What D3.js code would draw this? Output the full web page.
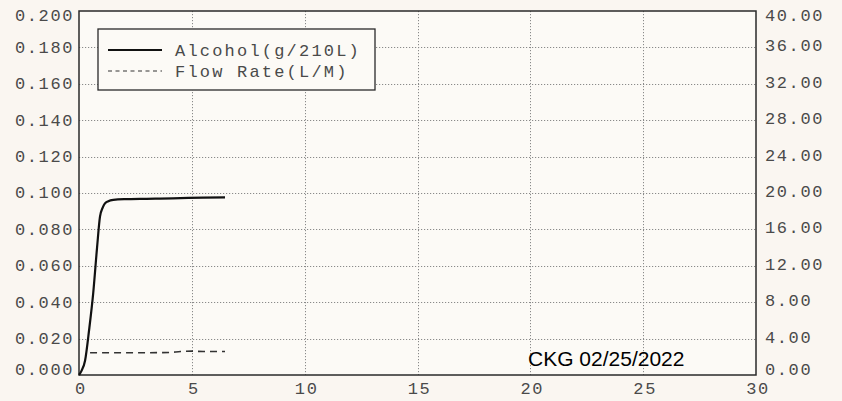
<!DOCTYPE html>
<html><head><meta charset="utf-8">
<script src="https://cdn.jsdelivr.net/npm/d3@7"></script>
<style>
html,body{margin:0;padding:0;background:#faf6f1;}
svg{display:block;}
</style></head>
<body>
<svg id="chart" width="842" height="401"></svg>
<script>
// ---- data ----
const timeAlcohol = [0, 0.1, 0.27, 0.45, 0.63, 0.8, 0.93, 1.05, 1.15, 1.3, 1.52, 2, 3, 3.6, 4.5, 5.5, 6.47];
const alcohol     = [0, 0.002, 0.008, 0.025, 0.045, 0.070, 0.087, 0.092, 0.0943, 0.0955, 0.0962, 0.0966, 0.0968, 0.0969, 0.0972, 0.0975, 0.0976];
const timeFlow = [0.49, 1, 2, 3, 4, 4.5, 5, 5.5, 6.47];
const flowRate = [2.45, 2.45, 2.45, 2.45, 2.48, 2.58, 2.62, 2.58, 2.58];
const xTicks = [0, 5, 10, 15, 20, 25, 30];
const leftTicks = [0, 0.02, 0.04, 0.06, 0.08, 0.10, 0.12, 0.14, 0.16, 0.18, 0.20];
const rightTicks = [0, 4, 8, 12, 16, 20, 24, 28, 32, 36, 40];
const seriesNames = ["Alcohol(g/210L)", "Flow Rate(L/M)"];
const stamp = "CKG 02/25/2022";

// ---- layout ----
const L = 79, R = 756, T = 11, B = 375;
const svg = d3.select("#chart");
const x = d3.scaleLinear().domain([0, 30]).range([L, R]);
const yL = d3.scaleLinear().domain([0, 0.2]).range([B, T]);
const yR = d3.scaleLinear().domain([0, 40]).range([B, T]);
const mono = "'Liberation Mono','DejaVu Sans Mono',monospace";
const textCol = "#4a4a4a";

// plot background
svg.append("rect").attr("x", L).attr("y", T).attr("width", R - L).attr("height", B - T)
  .attr("fill", "#fcfaf6");

// grid
const grid = svg.append("g").attr("stroke", "#8a8a8a").attr("stroke-width", 1)
  .attr("stroke-dasharray", "1.2,1.8");
grid.selectAll("line.h").data(leftTicks.slice(1, -1)).join("line")
  .attr("x1", L).attr("x2", R).attr("y1", d => Math.round(yL(d)) + 0.5).attr("y2", d => Math.round(yL(d)) + 0.5);
grid.selectAll("line.v").data(xTicks.slice(1, -1)).join("line")
  .attr("y1", T).attr("y2", B).attr("x1", d => Math.round(x(d)) + 0.5).attr("x2", d => Math.round(x(d)) + 0.5);

// axes via d3 (text only, no domain/ticks drawn)
function styleAxis(g) {
  g.select(".domain").remove();
  g.selectAll(".tick line").remove();
  g.selectAll("text").attr("font-family", mono).attr("font-size", 17)
    .attr("letter-spacing", 1.6).attr("fill", textCol);
}
const clampY = v => Math.max(T + 5, Math.min(B - 5, v));

const leftAxis = svg.append("g").attr("transform", `translate(${L},0)`)
  .call(d3.axisLeft(yL).tickValues(leftTicks).tickFormat(d3.format(".3f")).tickSize(0).tickPadding(5));
styleAxis(leftAxis);
leftAxis.selectAll(".tick").attr("transform", d => `translate(0,${clampY(yL(d))})`);

const rightAxis = svg.append("g").attr("transform", `translate(${R},0)`)
  .call(d3.axisRight(yR).tickValues(rightTicks).tickFormat(d3.format(".2f")).tickSize(0).tickPadding(9));
styleAxis(rightAxis);
rightAxis.selectAll(".tick").attr("transform", d => `translate(0,${clampY(yR(d) - 1.5)})`);

const bottomAxis = svg.append("g").attr("transform", `translate(0,${B})`)
  .call(d3.axisBottom(x).tickValues(xTicks).tickFormat(d3.format("d")).tickSize(0).tickPadding(7));
styleAxis(bottomAxis);
bottomAxis.selectAll("text").attr("dx", 1.5);

// frame
svg.append("rect").attr("x", L).attr("y", T).attr("width", R - L).attr("height", B - T)
  .attr("fill", "none").attr("stroke", "#2a2a2a").attr("stroke-width", 1.5);

// series
const alcData = timeAlcohol.map((t, i) => [t, alcohol[i]]);
const flowData = timeFlow.map((t, i) => [t, flowRate[i]]);
svg.append("path").datum(alcData)
  .attr("d", d3.line().x(d => x(d[0])).y(d => yL(d[1])).curve(d3.curveMonotoneX))
  .attr("fill", "none").attr("stroke", "#111").attr("stroke-width", 2.2)
  .attr("stroke-linejoin", "round");
svg.append("path").datum(flowData)
  .attr("d", d3.line().x(d => x(d[0])).y(d => yR(d[1])).curve(d3.curveMonotoneX))
  .attr("fill", "none").attr("stroke", "#333").attr("stroke-width", 1.6)
  .attr("stroke-dasharray", "7,5");

// legend
const lg = svg.append("g");
lg.append("rect").attr("x", 98).attr("y", 29).attr("width", 277).attr("height", 61)
  .attr("fill", "#fcfaf6").attr("stroke", "#2a2a2a").attr("stroke-width", 1.3);
lg.append("line").attr("x1", 108).attr("x2", 162).attr("y1", 50).attr("y2", 50)
  .attr("stroke", "#111").attr("stroke-width", 2);
lg.append("line").attr("x1", 108).attr("x2", 162).attr("y1", 71).attr("y2", 71)
  .attr("stroke", "#333").attr("stroke-width", 1.2).attr("stroke-dasharray", "4,3.5");
lg.selectAll("text").data(seriesNames).join("text")
  .attr("x", 175).attr("y", (d, i) => 50 + i * 21).attr("dy", "0.35em")
  .attr("font-family", mono).attr("font-size", 17).attr("letter-spacing", 2.2)
  .attr("fill", textCol).text(d => d);

// stamp
svg.append("text").attr("x", 528).attr("y", 366)
  .attr("font-family", "'Liberation Sans',Arial,sans-serif").attr("font-size", 21)
  .attr("fill", "#000").text(stamp);
</script>
</body></html>
